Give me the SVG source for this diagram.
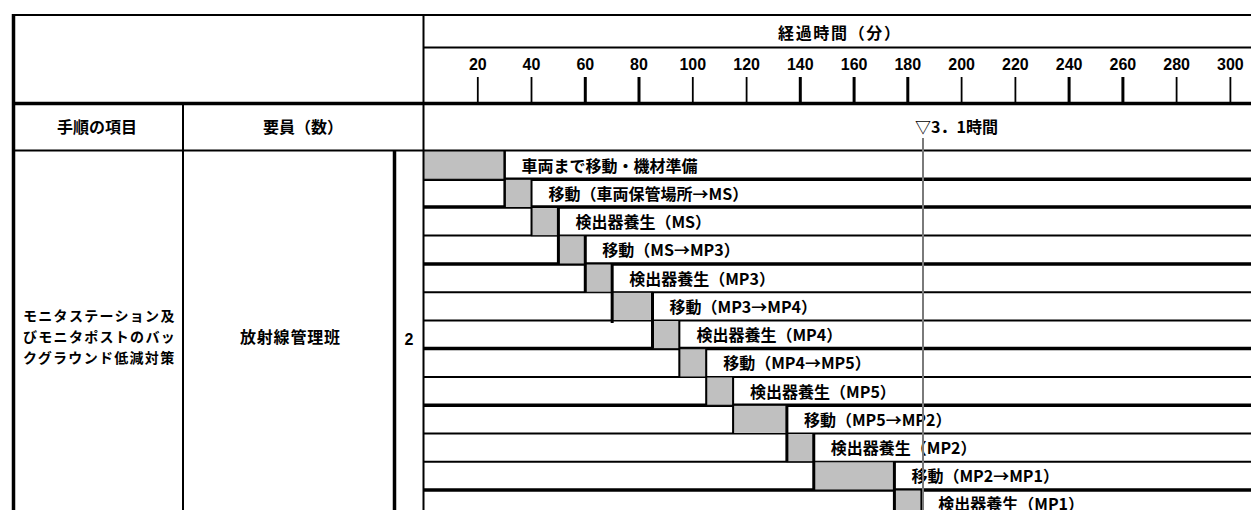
<svg xmlns="http://www.w3.org/2000/svg" width="1251" height="510" viewBox="0 0 1251 510">
<style>
.jp{font-family:"Noto Sans CJK JP","Noto Sans CJK SC",sans-serif;font-weight:bold;font-size:16px;fill:#000}
.jps{font-family:"Noto Sans CJK JP","Noto Sans CJK SC",sans-serif;font-weight:bold;font-size:14px;letter-spacing:1.3px;fill:#000}
.num{font-family:"Liberation Sans",Arial,sans-serif;font-weight:bold;font-size:16px;fill:#000;text-anchor:middle}
.ln{stroke:#000;fill:none}
.bar{fill:#c0c0c0;stroke:#000;stroke-width:1}
.tk{stroke:#000;stroke-width:1.8}
.tkb{stroke:#000;stroke-width:3}
</style>
<rect width="1251" height="510" fill="#fff"/>
<g id="table-frame">
<line class="ln" x1="12" y1="15" x2="1251" y2="15" stroke-width="2"/>
<line class="ln" x1="423.5" y1="47.5" x2="1251" y2="47.5" stroke-width="2"/>
<line class="ln" x1="12" y1="103.5" x2="1251" y2="103.5" stroke-width="3.5"/>
<line class="ln" x1="12" y1="150.5" x2="1251" y2="150.5" stroke-width="2"/>
<line class="ln" x1="13.5" y1="14" x2="13.5" y2="510" stroke-width="3.5"/>
<line class="ln" x1="183" y1="103.5" x2="183" y2="510" stroke-width="2"/>
<line class="ln" x1="394.5" y1="151" x2="394.5" y2="510" stroke-width="3.5"/>
<line class="ln" x1="423.5" y1="14" x2="423.5" y2="510" stroke-width="2"/>
</g>
<g id="time-header">
<text class="jp" x="778" y="38.5" textLength="122">経過時間（分）</text>
<g id="ticks">
<line class="tk" x1="477.8" y1="77" x2="477.8" y2="102"/>
<line class="tk" x1="531.5" y1="77" x2="531.5" y2="102"/>
<line class="tkb" x1="585.3" y1="77" x2="585.3" y2="102"/>
<line class="tkb" x1="639" y1="77" x2="639" y2="102"/>
<line class="tk" x1="692.8" y1="77" x2="692.8" y2="102"/>
<line class="tk" x1="746.6" y1="77" x2="746.6" y2="102"/>
<line class="tkb" x1="800.3" y1="77" x2="800.3" y2="102"/>
<line class="tkb" x1="854.1" y1="77" x2="854.1" y2="102"/>
<line class="tkb" x1="907.8" y1="77" x2="907.8" y2="102"/>
<line class="tk" x1="961.6" y1="77" x2="961.6" y2="102"/>
<line class="tk" x1="1015.4" y1="77" x2="1015.4" y2="102"/>
<line class="tkb" x1="1069.1" y1="77" x2="1069.1" y2="102"/>
<line class="tkb" x1="1122.9" y1="77" x2="1122.9" y2="102"/>
<line class="tk" x1="1176.6" y1="77" x2="1176.6" y2="102"/>
<line class="tk" x1="1230.4" y1="77" x2="1230.4" y2="102"/>
</g>
<g id="tick-labels">
<text class="num" x="477.8" y="69.5">20</text>
<text class="num" x="531.5" y="69.5">40</text>
<text class="num" x="585.3" y="69.5">60</text>
<text class="num" x="639" y="69.5">80</text>
<text class="num" x="692.8" y="69.5">100</text>
<text class="num" x="746.6" y="69.5">120</text>
<text class="num" x="800.3" y="69.5">140</text>
<text class="num" x="854.1" y="69.5">160</text>
<text class="num" x="907.8" y="69.5">180</text>
<text class="num" x="961.6" y="69.5">200</text>
<text class="num" x="1015.4" y="69.5">220</text>
<text class="num" x="1069.1" y="69.5">240</text>
<text class="num" x="1122.9" y="69.5">260</text>
<text class="num" x="1176.6" y="69.5">280</text>
<text class="num" x="1230.4" y="69.5">300</text>
</g>
</g>
<g id="col-headers">
<text class="jp" x="97" y="133" text-anchor="middle">手順の項目</text>
<text class="jp" x="303" y="133" text-anchor="middle">要員（数）</text>
<text class="jp" x="915" y="133">▽3．1時間</text>
</g>
<g id="item">
<text class="jps"><tspan x="23" y="320.5">モニタステーション及</tspan><tspan x="23" y="341.5">びモニタポストのバッ</tspan><tspan x="23" y="362.5">クグラウンド低減対策</tspan></text>
</g>
<g id="staff">
<text class="jp" x="240" y="343" textLength="100">放射線管理班</text>
</g>
<g id="count">
<text class="num" x="409" y="345">2</text>
</g>
<g id="row-lines">
<line class="ln" x1="423.5" y1="179.25" x2="1251" y2="179.25" stroke-width="3.5"/>
<line class="ln" x1="423.5" y1="207" x2="1251" y2="207" stroke-width="3.5"/>
<line class="ln" x1="423.5" y1="235.5" x2="1251" y2="235.5" stroke-width="2"/>
<line class="ln" x1="423.5" y1="264" x2="1251" y2="264" stroke-width="3.5"/>
<line class="ln" x1="423.5" y1="292.25" x2="1251" y2="292.25" stroke-width="2"/>
<line class="ln" x1="423.5" y1="320.5" x2="1251" y2="320.5" stroke-width="2"/>
<line class="ln" x1="423.5" y1="348.5" x2="1251" y2="348.5" stroke-width="3.5"/>
<line class="ln" x1="423.5" y1="377" x2="1251" y2="377" stroke-width="2"/>
<line class="ln" x1="423.5" y1="405.25" x2="1251" y2="405.25" stroke-width="3.5"/>
<line class="ln" x1="423.5" y1="433.5" x2="1251" y2="433.5" stroke-width="2"/>
<line class="ln" x1="423.5" y1="461.75" x2="1251" y2="461.75" stroke-width="2"/>
<line class="ln" x1="423.5" y1="490" x2="1251" y2="490" stroke-width="3.5"/>
</g>
<g id="task-1"><rect class="bar" x="424" y="151" width="80.64" height="28.25"/><text class="jp" x="521.6" y="171.5">車両まで移動・機材準備</text></g>
<g id="task-2"><rect class="bar" x="504.64" y="179.25" width="26.88" height="28.25"/><text class="jp" x="548.5" y="199.75">移動（車両保管場所→MS）</text></g>
<g id="task-3"><rect class="bar" x="531.52" y="207.5" width="26.88" height="28.25"/><text class="jp" x="575.4" y="228">検出器養生（MS）</text></g>
<g id="task-4"><rect class="bar" x="558.4" y="235.75" width="26.88" height="28.25"/><text class="jp" x="602.3" y="256.25">移動（MS→MP3）</text></g>
<g id="task-5"><rect class="bar" x="585.28" y="264" width="26.88" height="28.25"/><text class="jp" x="629.2" y="284.5">検出器養生（MP3）</text></g>
<g id="task-6"><rect class="bar" x="612.16" y="292.25" width="40.32" height="28.25"/><text class="jp" x="669.5" y="312.75">移動（MP3→MP4）</text></g>
<g id="task-7"><rect class="bar" x="652.48" y="320.5" width="26.88" height="28.25"/><text class="jp" x="696.4" y="341">検出器養生（MP4）</text></g>
<g id="task-8"><rect class="bar" x="679.36" y="348.75" width="26.88" height="28.25"/><text class="jp" x="723.2" y="369.25">移動（MP4→MP5）</text></g>
<g id="task-9"><rect class="bar" x="706.24" y="377" width="26.88" height="28.25"/><text class="jp" x="750.1" y="397.5">検出器養生（MP5）</text></g>
<g id="task-10"><rect class="bar" x="733.12" y="405.25" width="53.76" height="28.25"/><text class="jp" x="803.9" y="425.75">移動（MP5→MP2）</text></g>
<g id="task-11"><rect class="bar" x="786.88" y="433.5" width="26.88" height="28.25"/><text class="jp" x="830.8" y="454">検出器養生（MP2）</text></g>
<g id="task-12"><rect class="bar" x="813.76" y="461.75" width="80.64" height="28.25"/><text class="jp" x="911.4" y="482.25">移動（MP2→MP1）</text></g>
<g id="task-13"><rect class="bar" x="894.4" y="490" width="26.88" height="28.25"/><text class="jp" x="938.3" y="509.5">検出器養生（MP1）</text></g>
<g id="connectors">
<line class="ln" x1="504.64" y1="151" x2="504.64" y2="207.5" stroke-width="2.5"/>
<line class="ln" x1="531.52" y1="179.25" x2="531.52" y2="235.75" stroke-width="2"/>
<line class="ln" x1="558.4" y1="207.5" x2="558.4" y2="264" stroke-width="3"/>
<line class="ln" x1="585.28" y1="235.75" x2="585.28" y2="292.25" stroke-width="3"/>
<line class="ln" x1="612.16" y1="264" x2="612.16" y2="323" stroke-width="3"/>
<line class="ln" x1="652.48" y1="292.25" x2="652.48" y2="348.75" stroke-width="3"/>
<line class="ln" x1="679.36" y1="320.5" x2="679.36" y2="377" stroke-width="2"/>
<line class="ln" x1="706.24" y1="348.75" x2="706.24" y2="405.25" stroke-width="2"/>
<line class="ln" x1="733.12" y1="377" x2="733.12" y2="433.5" stroke-width="2"/>
<line class="ln" x1="786.88" y1="405.25" x2="786.88" y2="461.75" stroke-width="3"/>
<line class="ln" x1="813.76" y1="433.5" x2="813.76" y2="490" stroke-width="3"/>
<line class="ln" x1="894.4" y1="461.75" x2="894.4" y2="518" stroke-width="3"/>
<line class="ln" x1="921.28" y1="490" x2="921.28" y2="518" stroke-width="1.5"/>
</g>
<g id="time-marker">
<line x1="923" y1="138" x2="923" y2="510" stroke="#7a7a7a" stroke-width="2"/>
</g>
</svg>
